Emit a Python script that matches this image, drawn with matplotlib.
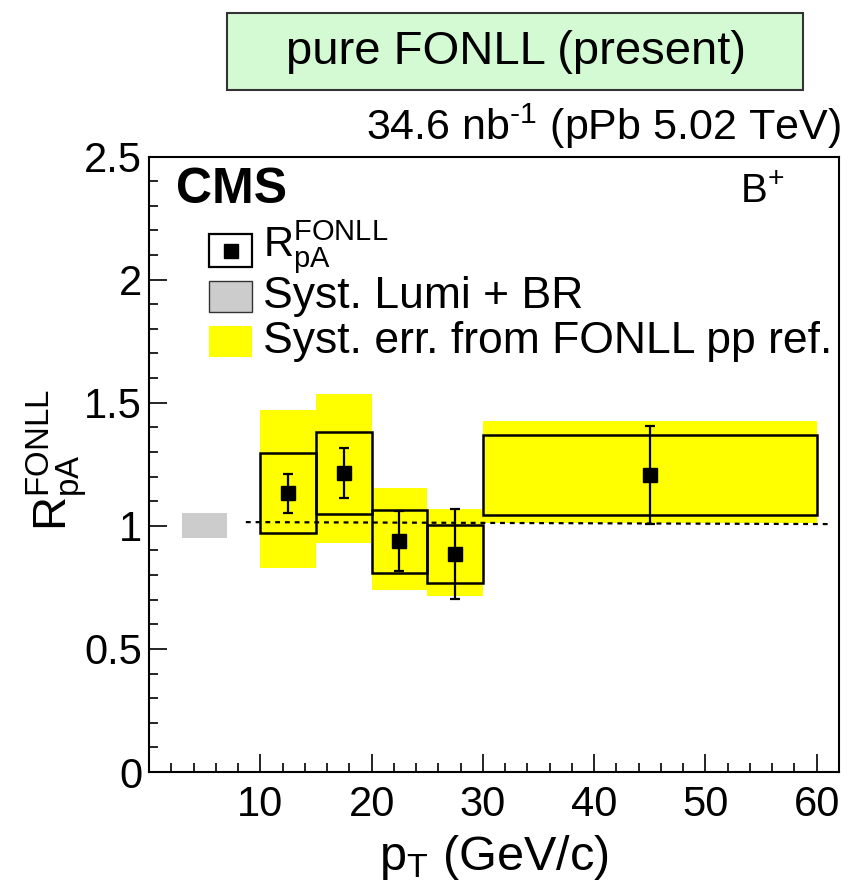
import matplotlib
matplotlib.use("Agg")
import matplotlib.pyplot as plt
from matplotlib.patches import Rectangle
from matplotlib.ticker import MultipleLocator, FixedLocator, FuncFormatter

plt.rcParams['font.family'] = ['Liberation Sans', 'DejaVu Sans']
plt.rcParams['mathtext.fontset'] = 'custom'
plt.rcParams['mathtext.rm'] = 'Liberation Sans'
plt.rcParams['mathtext.it'] = 'Liberation Sans'
plt.rcParams['mathtext.bf'] = 'Liberation Sans:bold'

# ---------------- data ----------------
pt_lo = [10, 15, 20, 25, 30]
pt_hi = [15, 20, 25, 30, 60]
pt_center = [12.5, 17.5, 22.5, 27.5, 45]
rpa = [1.132, 1.214, 0.937, 0.885, 1.206]
stat_err = [0.080, 0.100, 0.122, 0.183, 0.198]
syst_err = [0.163, 0.167, 0.129, 0.118, 0.163]
fonll_lo = [0.829, 0.930, 0.740, 0.716, 1.010]
fonll_hi = [1.470, 1.535, 1.153, 1.068, 1.426]
lumi_x = [3, 7]
lumi_band = [0.95, 1.05]
ref_line_x = [8.7, 61.0]
ref_line_y = [1.015, 1.007]
x_ticks = [10, 20, 30, 40, 50, 60]
y_ticks = [0, 0.5, 1, 1.5, 2, 2.5]

W, H = 848, 889
fig = plt.figure(figsize=(W / 100, H / 100), dpi=100)

def fx(px):
    return px / W

def fy(py):
    return 1 - py / H

ax_l, ax_r, ax_t, ax_b = 149, 839, 156.5, 772
ax = fig.add_axes([fx(ax_l), fy(ax_b), fx(ax_r - ax_l), (ax_b - ax_t) / H])
ax.set_xlim(0, 62)
ax.set_ylim(0, 2.5)

# yellow FONLL bands
for lo, hi, ylo, yhi in zip(pt_lo, pt_hi, fonll_lo, fonll_hi):
    ax.add_patch(Rectangle((lo, ylo), hi - lo, yhi - ylo, facecolor='#ffff00',
                           edgecolor='none', zorder=1))

# gray lumi box
ax.add_patch(Rectangle((lumi_x[0], lumi_band[0]), lumi_x[1] - lumi_x[0],
                       lumi_band[1] - lumi_band[0], facecolor='#cccccc',
                       edgecolor='none', zorder=1))

# dotted reference line
ax.plot(ref_line_x, ref_line_y, color='black', lw=1.6, ls=(0, (2.2, 2.2)), zorder=2)

# syst boxes
for lo, hi, y, e in zip(pt_lo, pt_hi, rpa, syst_err):
    ax.add_patch(Rectangle((lo, y - e), hi - lo, 2 * e, facecolor='none',
                           edgecolor='black', lw=1.8, zorder=3))

# points with stat errors
ax.errorbar(pt_center, rpa, yerr=stat_err, fmt='s', color='black', ms=9.5,
            elinewidth=1.6, capsize=3.5, capthick=1.6, zorder=4)

# axes styling
for s in ax.spines.values():
    s.set_linewidth(1.5)
ax.xaxis.set_major_locator(FixedLocator(x_ticks))
ax.xaxis.set_minor_locator(MultipleLocator(2))
ax.yaxis.set_major_locator(FixedLocator(y_ticks))
ax.yaxis.set_minor_locator(MultipleLocator(0.1))
ax.yaxis.set_major_formatter(FuncFormatter(lambda v, p: f"{v:g}"))
ax.tick_params(which='both', direction='in', top=False, right=False, width=1.2)
ax.tick_params(which='major', length=13, labelsize=30)
ax.tick_params(which='minor', length=6.5)
ax.tick_params(axis='x', which='major', pad=9)
ax.tick_params(axis='y', which='major', pad=5)

# axis titles
fig.text(fx(494), fy(870), r'$\mathrm{p_{T}}$ (GeV/c)', fontsize=35,
         ha='center', va='baseline')
fig.text(fx(67), fy(460), r'$\mathrm{R_{pA}^{FONLL}}$', fontsize=34,
         ha='center', va='baseline', rotation=90, rotation_mode='anchor')

# CMS and B+
def axf(px, py):
    return ((px - ax_l) / (ax_r - ax_l), (ax_b - py) / (ax_b - ax_t))

ax.text(*axf(176, 203), 'CMS', transform=ax.transAxes, fontsize=36,
        fontweight='bold', ha='left', va='baseline')
ax.text(*axf(740, 203), r'B$^{+}$', transform=ax.transAxes, fontsize=29,
        ha='left', va='baseline')

# legend (manual)
bx0, bx1 = 209, 252
entries = [(234, 267), (281, 312), (326, 357)]
# entry 1: outlined box with marker
x0, y1 = axf(bx0, entries[0][1])
x1, y0 = axf(bx1, entries[0][0])
ax.add_patch(Rectangle((x0, y1), x1 - x0, y0 - y1, transform=ax.transAxes,
                       facecolor='white', edgecolor='black', lw=1.6, zorder=5))
ax.plot([(x0 + x1) / 2], [(y0 + y1) / 2], 's', color='black', ms=9.5,
        transform=ax.transAxes, zorder=6)
# entry 2: gray
x0, y1 = axf(bx0, entries[1][1])
x1, y0 = axf(bx1, entries[1][0])
ax.add_patch(Rectangle((x0, y1), x1 - x0, y0 - y1, transform=ax.transAxes,
                       facecolor='#cccccc', edgecolor='#333333', lw=1.0, zorder=5))
# entry 3: yellow
x0, y1 = axf(bx0, entries[2][1])
x1, y0 = axf(bx1, entries[2][0])
ax.add_patch(Rectangle((x0, y1), x1 - x0, y0 - y1, transform=ax.transAxes,
                       facecolor='#ffff00', edgecolor='none', zorder=5))

leg_fs = 32
ax.text(*axf(263, 257), r'$\mathrm{R_{pA}^{FONLL}}$', transform=ax.transAxes,
        fontsize=30, ha='left', va='baseline')
ax.text(*axf(263, 308), 'Syst. Lumi + BR', transform=ax.transAxes,
        fontsize=leg_fs, ha='left', va='baseline')
ax.text(*axf(263, 353), 'Syst. err. from FONLL pp ref.', transform=ax.transAxes,
        fontsize=leg_fs, ha='left', va='baseline')

# top green box
fig.patches.append(Rectangle((fx(227), fy(90)), fx(803 - 227), (90 - 13) / H,
                             transform=fig.transFigure, facecolor='#d4fad4',
                             edgecolor='#333333', lw=1.5))
fig.text(fx(516), fy(52), 'pure FONLL (present)', fontsize=34,
         ha='center', va='center')

# lumi text
fig.text(fx(841), fy(140), r'34.6 nb$^{\text{-1}}$ (pPb 5.02 TeV)', fontsize=31,
         ha='right', va='baseline')

fig.savefig('out.png', dpi=100)
